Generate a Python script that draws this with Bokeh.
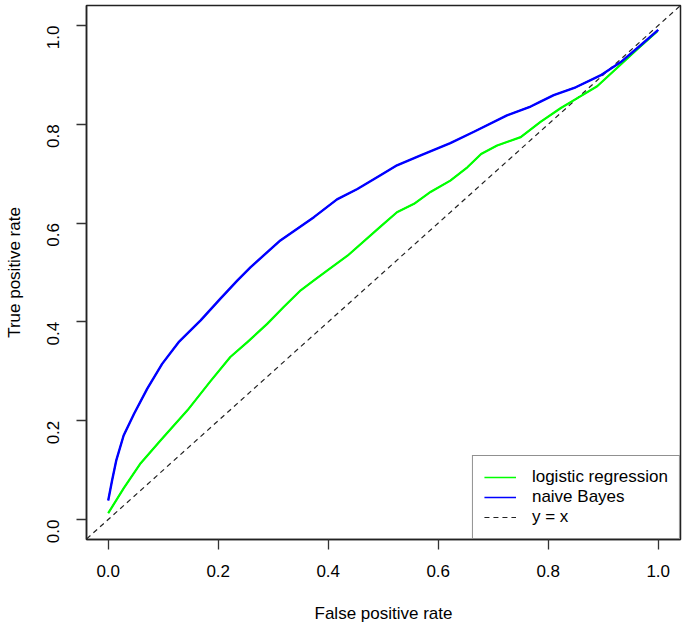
import math
from bokeh.plotting import figure
from bokeh.models import Range1d, FixedTicker, Legend, LegendItem
from bokeh.embed import file_html
from bokeh.resources import INLINE

# ---- data ----
nb_fpr = [0.0, 0.007, 0.0145, 0.028, 0.047, 0.071, 0.098, 0.128, 0.168, 0.204, 0.235,
          0.259, 0.313, 0.374, 0.416, 0.453, 0.495, 0.525, 0.568, 0.622, 0.665, 0.725,
          0.768, 0.786, 0.810, 0.850, 0.895, 0.932, 0.968, 1.0]
nb_tpr = [0.0385, 0.079, 0.119, 0.170, 0.214, 0.265, 0.315, 0.359, 0.403, 0.447, 0.484,
          0.511, 0.565, 0.612, 0.648, 0.669, 0.697, 0.717, 0.737, 0.762, 0.785, 0.818,
          0.836, 0.846, 0.859, 0.875, 0.899, 0.926, 0.960, 0.991]

lr_fpr = [0.0, 0.028, 0.059, 0.095, 0.144, 0.186, 0.222, 0.253, 0.289, 0.319, 0.350,
          0.374, 0.398, 0.435, 0.495, 0.525, 0.556, 0.586, 0.622, 0.653, 0.678, 0.707,
          0.750, 0.786, 0.823, 0.853, 0.889, 0.925, 0.962, 0.998]
lr_tpr = [0.0128, 0.063, 0.114, 0.160, 0.221, 0.280, 0.329, 0.359, 0.396, 0.430, 0.464,
          0.484, 0.504, 0.534, 0.593, 0.622, 0.639, 0.663, 0.686, 0.713, 0.740, 0.757,
          0.774, 0.805, 0.833, 0.853, 0.877, 0.914, 0.952, 0.988]

diag_x = [-0.1, 1.1]
diag_y = [-0.1, 1.1]

tick_values = [0.0, 0.2, 0.4, 0.6, 0.8, 1.0]
tick_labels = ["0.0", "0.2", "0.4", "0.6", "0.8", "1.0"]

series_names = ["logistic regression", "naive Bayes", "y = x"]
x_title = "False positive rate"
y_title = "True positive rate"

FONT = "Liberation Sans"
FS = "17px"

p = figure(width=684, height=625, output_backend="svg", toolbar_location=None,
           x_range=Range1d(-0.0395, 1.0405), y_range=Range1d(-0.0405, 1.0405),
           min_border_left=86, min_border_right=4, min_border_top=5, min_border_bottom=86)

p.xgrid.visible = False
p.ygrid.visible = False
p.outline_line_color = "#222222"
p.outline_line_width = 1.5
p.background_fill_color = "white"
p.border_fill_color = "white"

for ax in (p.xaxis[0], p.yaxis[0]):
    ax.ticker = FixedTicker(ticks=tick_values)
    ax.major_label_overrides = {v: l for v, l in zip(tick_values, tick_labels)}
    ax.minor_tick_line_color = None
    ax.major_tick_in = 0
    ax.major_tick_out = 10
    ax.major_tick_line_color = "#333333"
    ax.major_tick_line_width = 1.3
    ax.axis_line_color = "#222222"
    ax.axis_line_width = 1.5
    ax.major_label_text_font = FONT
    ax.major_label_text_font_size = FS
    ax.major_label_text_color = "black"
    ax.axis_label_text_font = FONT
    ax.axis_label_text_font_size = FS
    ax.axis_label_text_font_style = "normal"
    ax.axis_label_text_color = "black"

p.xaxis[0].axis_label = x_title
p.yaxis[0].axis_label = y_title
p.yaxis[0].major_label_orientation = math.pi / 2
p.xaxis[0].major_label_standoff = 15
p.yaxis[0].major_label_standoff = 23
p.xaxis[0].axis_label_standoff = 24
p.yaxis[0].axis_label_standoff = 15

# legend proxies: thin lines under the thick curves (as in the reference legend)
r_dg = p.line(diag_x, diag_y, line_color="#222222", line_width=1.2, line_dash="5 4")
r_lr = p.line(lr_fpr, lr_tpr, line_color="#00FF00", line_width=1.4)
r_nb = p.line(nb_fpr, nb_tpr, line_color="#0000FF", line_width=1.4)

# curves
p.line(lr_fpr, lr_tpr, line_color="#00FF00", line_width=2.2, line_join="round")
p.line(nb_fpr, nb_tpr, line_color="#0000FF", line_width=2.4, line_join="round")

legend = Legend(items=[LegendItem(label=series_names[0], renderers=[r_lr]),
                       LegendItem(label=series_names[1], renderers=[r_nb]),
                       LegendItem(label=series_names[2], renderers=[r_dg])],
                location="bottom_right", margin=0, padding=11, spacing=0,
                label_height=20, glyph_height=20, glyph_width=32, label_standoff=16,
                label_text_font=FONT, label_text_font_size=FS, label_text_color="black",
                border_line_color="#222222", border_line_width=1.3,
                background_fill_color="white", background_fill_alpha=1.0)
p.add_layout(legend, "center")

open("out.html", "w").write(file_html(p, INLINE))
